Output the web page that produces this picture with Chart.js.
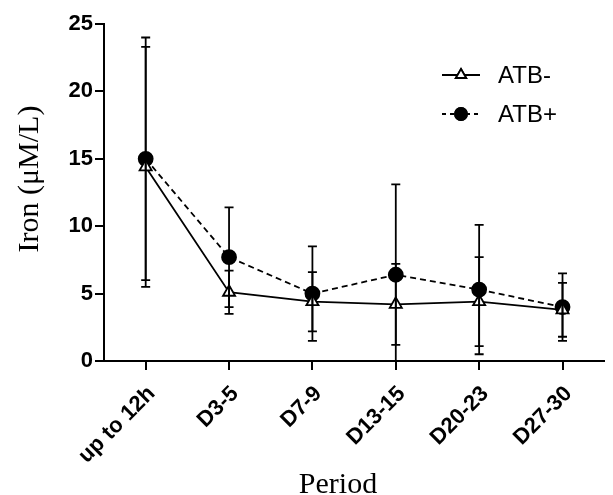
<!DOCTYPE html>
<html>
<head>
<meta charset="utf-8">
<script src="https://cdn.jsdelivr.net/npm/chart.js@4"></script>
<style>
  html, body { margin: 0; padding: 0; background: #fff; }
  canvas { display: block; }
</style>
</head>
<body>
<canvas id="iron-chart" width="613" height="495"></canvas>
<script>
// values (mean and SD)
const periods = ['up to 12h', 'D3-5', 'D7-9', 'D13-15', 'D20-23', 'D27-30'];
const atbMinus = [14.4, 5.1, 4.4, 4.2, 4.4, 3.8];
const atbMinusSd = [8.9, 1.6, 2.2, 3.0, 3.3, 2.0];
const atbPlus = [15.0, 7.7, 5.0, 6.4, 5.3, 4.0];
const atbPlusSd = [9.0, 3.7, 3.5, 6.7, 4.8, 2.5];
const yTicks = [0, 5, 10, 15, 20, 25];

const sds = [atbMinusSd, atbPlusSd];
const tickFont = { family: '"Liberation Sans", Arial, sans-serif', size: 22, weight: 'bold' };

// draws the SD bars with caps, through the chart scales
const errorBars = {
  id: 'errorBars',
  afterDatasetsDraw(chart) {
    const { ctx, chartArea, scales } = chart;
    ctx.save();
    ctx.beginPath();
    ctx.rect(chartArea.left, chartArea.top - 2, chartArea.right - chartArea.left, chartArea.bottom - chartArea.top + 2);
    ctx.clip();
    ctx.strokeStyle = '#000';
    ctx.lineWidth = 1.8;
    chart.data.datasets.forEach((ds, i) => {
      ds.data.forEach((v, j) => {
        const x = scales.x.getPixelForValue(j);
        const top = scales.y.getPixelForValue(v + sds[i][j]);
        const bot = scales.y.getPixelForValue(v - sds[i][j]);
        ctx.beginPath();
        ctx.moveTo(x, top);
        ctx.lineTo(x, bot);
        ctx.moveTo(x - 4.5, top);
        ctx.lineTo(x + 4.5, top);
        ctx.moveTo(x - 4.5, bot);
        ctx.lineTo(x + 4.5, bot);
        ctx.stroke();
      });
    });
    ctx.restore();
  }
};

// legend in the style of the original (line + marker + label) and axis titles
const lineLegend = {
  id: 'lineLegend',
  afterDraw(chart) {
    const { ctx } = chart;
    const items = [
      { text: 'ATB-', y: 75, dash: [], fill: '#fff', style: 'triangle' },
      { text: 'ATB+', y: 114, dash: [4, 4], fill: '#000', style: 'circle' }
    ];
    ctx.save();
    items.forEach((it) => {
      ctx.strokeStyle = '#000';
      ctx.lineWidth = 1.8;
      ctx.setLineDash(it.dash);
      ctx.beginPath();
      ctx.moveTo(442, it.y);
      ctx.lineTo(480, it.y);
      ctx.stroke();
      ctx.setLineDash([]);
      ctx.fillStyle = it.fill;
      Chart.helpers.drawPoint(ctx, { pointStyle: it.style, radius: 6, borderWidth: 1.8 }, 461, it.y);
      ctx.fill();
      ctx.stroke();
      ctx.fillStyle = '#000';
      ctx.font = '24px "Liberation Sans", Arial, sans-serif';
      ctx.textAlign = 'left';
      ctx.textBaseline = 'middle';
      ctx.fillText(it.text, 498, it.y + 1);
    });

    // axis titles
    ctx.fillStyle = '#000';
    ctx.textAlign = 'center';
    ctx.textBaseline = 'alphabetic';
    ctx.font = '30px "Liberation Serif", serif';
    ctx.fillText('Period', 338, 493);
    ctx.translate(38, 179);
    ctx.rotate(-Math.PI / 2);
    ctx.fillText('Iron (μM/L)', 0, 0);
    ctx.restore();
  }
};

const axisColor = '#000';

new Chart(document.getElementById('iron-chart'), {
  type: 'line',
  data: {
    labels: periods,
    datasets: [
      {
        label: 'ATB-',
        data: atbMinus,
        borderColor: '#000',
        borderWidth: 1.8,
        pointStyle: 'triangle',
        pointRadius: 7,
        pointBackgroundColor: '#fff',
        pointBorderColor: '#000',
        pointBorderWidth: 1.8,
        tension: 0
      },
      {
        label: 'ATB+',
        data: atbPlus,
        borderColor: '#000',
        borderWidth: 1.8,
        borderDash: [6, 4],
        pointStyle: 'circle',
        pointRadius: 7,
        pointBackgroundColor: '#000',
        pointBorderColor: '#000',
        tension: 0
      }
    ]
  },
  options: {
    responsive: false,
    animation: false,
    layout: { padding: { top: 24, right: 4, left: 0, bottom: 0 } },
    plugins: {
      legend: { display: false },
      tooltip: { enabled: false }
    },
    scales: {
      x: {
        type: 'category',
        offset: true,
        afterFit: (s) => { s.height = 134; },
        grid: { drawOnChartArea: false, drawTicks: true, tickLength: 9, color: axisColor, lineWidth: 2, offset: false },
        border: { color: axisColor, width: 2 },
        ticks: {
          color: '#000',
          maxRotation: 45,
          minRotation: 45,
          padding: 11,
          labelOffset: 6,
          font: tickFont
        }
      },
      y: {
        min: 0,
        max: 25,
        afterFit: (s) => { s.width = 104; },
        afterBuildTicks: (s) => { s.ticks = yTicks.map((v) => ({ value: v })); },
        grid: { drawOnChartArea: false, drawTicks: true, tickLength: 9, color: axisColor, lineWidth: 2 },
        border: { color: axisColor, width: 2 },
        ticks: {
          color: '#000',
          padding: 2,
          font: tickFont
        }
      }
    }
  },
  plugins: [errorBars, lineLegend]
});
</script>
</body>
</html>
